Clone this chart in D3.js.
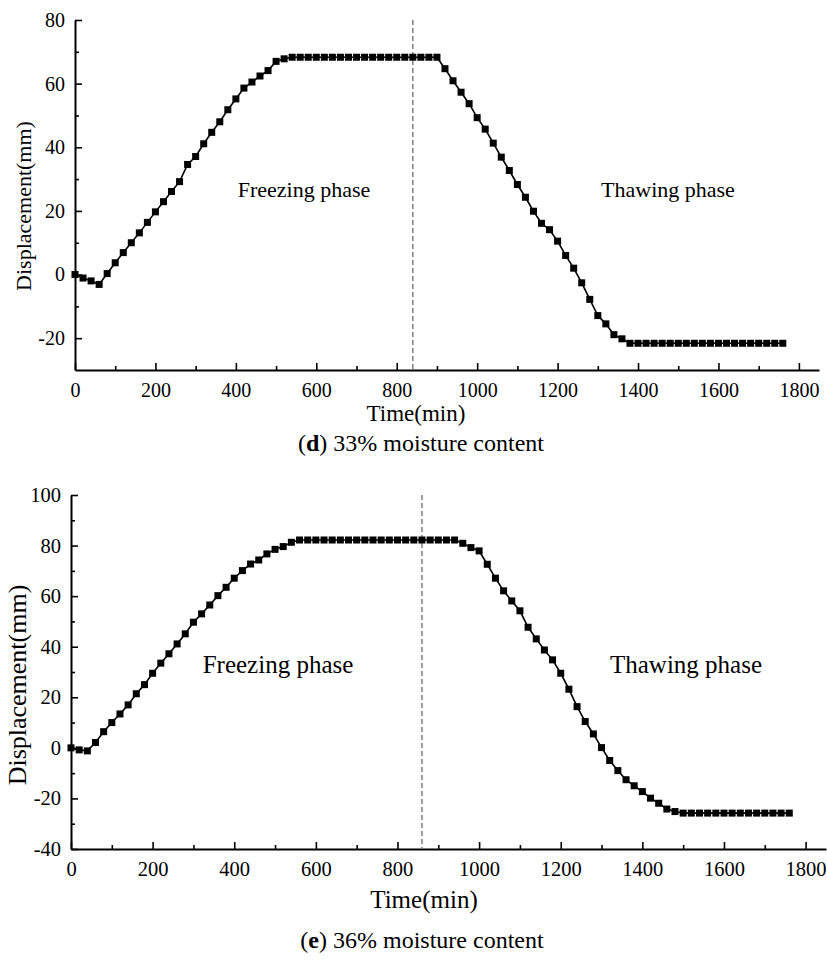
<!DOCTYPE html>
<html>
<head>
<meta charset="utf-8">
<script src="https://cdn.jsdelivr.net/npm/d3@7"></script>
<style>
  body { margin: 0; background: #fff; }
  svg text { font-family: "Liberation Serif", "Times New Roman", serif; fill: #000; }
</style>
</head>
<body>
<svg></svg>
<script>
// sampling times (min), shared by both tests
const times = [0, 20, 40, 60, 80, 100, 120, 140, 160, 180, 200, 220, 240, 260, 280, 300, 320, 340, 360, 380,
	400, 420, 440, 460, 480, 500, 520, 540, 560, 580, 600, 620, 640, 660, 680, 700, 720, 740, 760, 780,
	800, 820, 840, 860, 880, 900, 920, 940, 960, 980, 1000, 1020, 1040, 1060, 1080, 1100, 1120, 1140, 1160, 1180,
	1200, 1220, 1240, 1260, 1280, 1300, 1320, 1340, 1360, 1380, 1400, 1420, 1440, 1460, 1480, 1500, 1520, 1540, 1560, 1580,
	1600, 1620, 1640, 1660, 1680, 1700, 1720, 1740, 1760];

// (d) 33% moisture content
const disp33 = [0, -1.1, -2, -3.1, 0.3, 3.7, 6.9, 10, 13.1, 16.4, 19.7, 22.9, 26.1, 29.2, 34.6, 37.1, 41.1, 44.7, 48, 51.8,
	55.2, 58.6, 60.5, 62.4, 64.1, 67, 67.8, 68.3, 68.3, 68.3, 68.3, 68.3, 68.3, 68.3, 68.3, 68.3, 68.3, 68.3, 68.3, 68.3,
	68.3, 68.3, 68.3, 68.3, 68.3, 68.3, 64.7, 60.9, 57.3, 53.7, 49.3, 45.7, 41.3, 36.9, 32.7, 28.3, 24.3, 19.9, 16.1, 14.1,
	10.5, 6, 2, -2.6, -7.8, -12.9, -15.5, -18.9, -20.2, -21.6, -21.6, -21.6, -21.6, -21.6, -21.6, -21.6, -21.6, -21.6, -21.6, -21.6,
	-21.6, -21.6, -21.6, -21.6, -21.6, -21.6, -21.6, -21.6, -21.6];

// (e) 36% moisture content
const disp36 = [0, -0.8, -1.2, 2.1, 6.4, 10, 13.4, 17, 21.4, 25, 29.5, 33.5, 37.2, 41.1, 45.1, 49.7, 53, 56.5, 60.2, 63.5,
	67.1, 70.1, 72.7, 74.3, 76.7, 78.5, 79.6, 81.3, 82.2, 82.2, 82.2, 82.2, 82.2, 82.2, 82.2, 82.2, 82.2, 82.2, 82.2, 82.2,
	82.2, 82.2, 82.2, 82.2, 82.2, 82.2, 82.2, 82.2, 80.9, 79.2, 77.9, 72.6, 67.1, 62.1, 58.1, 54.2, 47.7, 43.1, 38.7, 34.8,
	29.5, 23.2, 16.3, 10.4, 5.5, 0.1, -5, -9, -12.6, -15, -17.3, -19.9, -21.9, -24.2, -25.2, -25.8, -25.8, -25.8, -25.8, -25.8,
	-25.8, -25.8, -25.8, -25.8, -25.8, -25.8, -25.8, -25.8, -25.8];

const xTicks = [0, 200, 400, 600, 800, 1000, 1200, 1400, 1600, 1800];
const xMinor = [100, 300, 500, 700, 900, 1100, 1300, 1500, 1700];
const yTicks33 = [-20, 0, 20, 40, 60, 80];
const yMinor33 = [-10, 10, 30, 50, 70];
const yTicks36 = [-40, -20, 0, 20, 40, 60, 80, 100];
const yMinor36 = [-30, -10, 10, 30, 50, 70, 90];

const phaseSplit33 = 840, phaseSplit36 = 860;

const svg = d3.select('svg')
	.attr('width', 827)
	.attr('height', 961);

// plain labels: no thousands comma, ascii hyphen for minus
const fmt = d => String(d);

const render = p => {
	const xScale = d3.scaleLinear().domain([0, 1850]).range([p.left, p.right]);
	const yScale = d3.scaleLinear().domain(p.yDomain).range([p.bottom, p.top]);
	const data = times.map((t, i) => ({ t, v: p.values[i] }));

	const g = svg.append('g');

	// minor ticks first, no labels
	g.append('g')
		.attr('transform', `translate(0, ${p.bottom})`)
		.call(d3.axisBottom(xScale).tickValues(xMinor).tickSize(-4).tickSizeOuter(0).tickFormat(''))
		.call(a => a.select('.domain').remove());
	g.append('g')
		.attr('transform', `translate(${p.left}, 0)`)
		.call(d3.axisLeft(yScale).tickValues(p.yMinor).tickSize(-4).tickSizeOuter(0).tickFormat(''))
		.call(a => a.select('.domain').remove());

	const xAxisG = g.append('g')
		.attr('transform', `translate(0, ${p.bottom})`)
		.call(d3.axisBottom(xScale).tickValues(xTicks).tickFormat(fmt)
			.tickSize(-7).tickSizeOuter(0).tickPadding(p.tickFont * 0.62));
	xAxisG.selectAll('text').attr('font-size', p.tickFont);

	const yAxisG = g.append('g')
		.attr('transform', `translate(${p.left}, 0)`)
		.call(d3.axisLeft(yScale).tickValues(p.yTicks).tickFormat(fmt)
			.tickSize(-7).tickSizeOuter(0).tickPadding(10));
	yAxisG.selectAll('text').attr('font-size', p.tickFont);

	g.selectAll('.domain').attr('stroke-width', 2);
	g.selectAll('.tick line').attr('stroke-width', 1.6);

	// phase boundary
	g.append('line')
		.attr('x1', xScale(p.split)).attr('x2', xScale(p.split))
		.attr('y1', p.top).attr('y2', p.bottom)
		.attr('stroke', '#808080')
		.attr('stroke-width', 1.5)
		.attr('stroke-dasharray', '5,3');

	const lineGenerator = d3.line()
		.x(d => xScale(d.t))
		.y(d => yScale(d.v));

	g.append('path')
		.attr('fill', 'none')
		.attr('stroke', '#000')
		.attr('stroke-width', 1.6)
		.attr('d', lineGenerator(data));

	const s = 7;
	g.selectAll('rect.pt')
		.data(data)
		.enter().append('rect')
		.attr('class', 'pt')
		.attr('x', d => xScale(d.t) - s / 2)
		.attr('y', d => yScale(d.v) - s / 2)
		.attr('width', s)
		.attr('height', s)
		.attr('fill', '#000');

	// labels
	g.append('text')
		.attr('x', p.freeze[0]).attr('y', p.freeze[1])
		.attr('text-anchor', 'middle')
		.attr('font-size', p.phaseFont)
		.text('Freezing phase');
	g.append('text')
		.attr('x', p.thaw[0]).attr('y', p.thaw[1])
		.attr('text-anchor', 'middle')
		.attr('font-size', p.phaseFont)
		.text('Thawing phase');

	g.append('text')
		.attr('transform', `translate(${p.yTitle[0]}, ${p.yTitle[1]}) rotate(-90)`)
		.attr('text-anchor', 'middle')
		.attr('font-size', p.yTitleFont)
		.text('Displacement(mm)');

	g.append('text')
		.attr('x', p.xTitle[0]).attr('y', p.xTitle[1])
		.attr('text-anchor', 'middle')
		.attr('font-size', p.xTitleFont)
		.text('Time(min)');

	const cap = g.append('text')
		.attr('x', p.caption[0]).attr('y', p.caption[1])
		.attr('text-anchor', 'middle')
		.attr('font-size', 24);
	cap.append('tspan').text('(');
	cap.append('tspan').attr('font-weight', 'bold').text(p.letter);
	cap.append('tspan').text(') ' + p.captionText);
};

render({
	values: disp33, yDomain: [-30, 80], yTicks: yTicks33, yMinor: yMinor33, split: phaseSplit33,
	left: 75, right: 819, top: 20, bottom: 370,
	tickFont: 20, phaseFont: 22, yTitleFont: 22, xTitleFont: 23,
	freeze: [304, 197], thaw: [668, 197], yTitle: [31, 206], xTitle: [416, 421], caption: [421, 451],
	letter: 'd', captionText: '33% moisture content'
});

render({
	values: disp36, yDomain: [-40, 100], yTicks: yTicks36, yMinor: yMinor36, split: phaseSplit36,
	left: 71, right: 826, top: 495, bottom: 849,
	tickFont: 20.5, phaseFont: 25, yTitleFont: 26, xTitleFont: 25,
	freeze: [278, 673], thaw: [686, 673], yTitle: [26, 685], xTitle: [424, 908], caption: [422, 948],
	letter: 'e', captionText: '36% moisture content'
});
</script>
</body>
</html>
